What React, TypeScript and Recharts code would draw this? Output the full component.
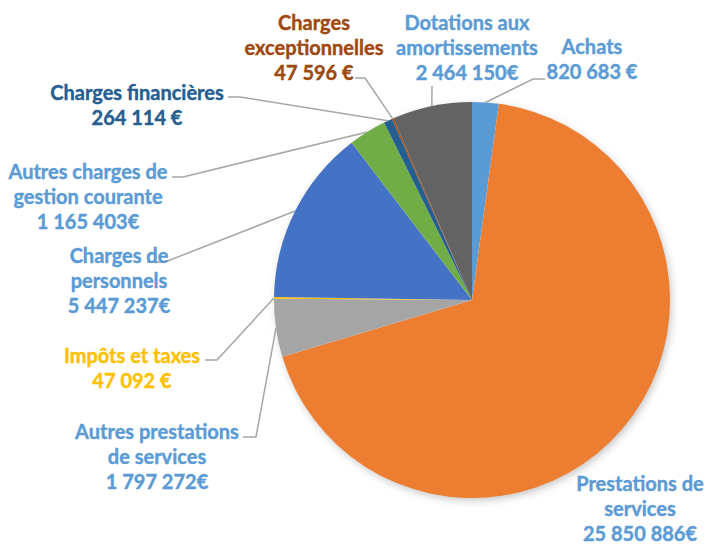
import { PieChart, Pie, Cell } from 'recharts'

const categories = [
  'Achats',
  'Prestations de services',
  'Autres prestations de services',
  'Impôts et taxes',
  'Charges de personnels',
  'Autres charges de gestion courante',
  'Charges financières',
  'Charges exceptionnelles',
  'Dotations aux amortissements',
]
const values = [820683, 25850886, 1797272, 47092, 5447237, 1165403, 264114, 47596, 2464150]
const valueLabels = [
  '820 683 €',
  '25 850 886€',
  '1 797 272€',
  '47 092 €',
  '5 447 237€',
  '1 165 403€',
  '264 114 €',
  '47 596 €',
  '2 464 150€',
]
// how each category name is wrapped in its label
const nameLines = [
  ['Achats'],
  ['Prestations de', 'services'],
  ['Autres prestations', 'de services'],
  ['Impôts et taxes'],
  ['Charges de', 'personnels'],
  ['Autres charges de', 'gestion courante'],
  ['Charges financières'],
  ['Charges', 'exceptionnelles'],
  ['Dotations aux', 'amortissements'],
]

const sliceColors = ['#5B9BD5', '#ED7D31', '#A5A5A5', '#FFC000', '#4472C4', '#70AD47', '#255E91', '#9E480E', '#636363']
const textColors = ['#5B9BD5', '#5B9BD5', '#5B9BD5', '#FFC000', '#5B9BD5', '#5B9BD5', '#255E91', '#9E480E', '#5B9BD5']

// label placement (text centre, first line y, leader elbow and end)
const labelLayout = [
  { x: 592, y: 46, elbow: [533, 79], end: [545, 79] },
  { x: 640, y: 483, elbow: null, end: null },
  { x: 157, y: 431, elbow: [256, 437], end: [243, 437] },
  { x: 132, y: 355, elbow: [217, 360], end: [205, 360] },
  { x: 119, y: 255, elbow: [165, 262], end: [147, 262] },
  { x: 88, y: 171, elbow: [183, 177], end: [172, 177] },
  { x: 137, y: 92, elbow: [240, 97], end: [228, 97] },
  { x: 314, y: 22, elbow: [365, 78], end: [355, 78] },
  { x: 467, y: 22, elbow: [432, 86], end: [432, 86] },
]

const data = categories.map((name, i) => ({ name, value: values[i] }))

const RAD = Math.PI / 180
const LINE_H = 25

function renderLabel(props: any) {
  const { cx, cy, midAngle, outerRadius, index } = props
  const lay = labelLayout[index]
  const lines = [...nameLines[index], valueLabels[index]]
  const sx = cx + outerRadius * Math.cos(-midAngle * RAD)
  const sy = cy + outerRadius * Math.sin(-midAngle * RAD)
  return (
    <g key={`lbl-${index}`}>
      {lay.elbow && lay.end && (
        <polyline
          points={`${sx},${sy} ${lay.elbow[0]},${lay.elbow[1]} ${lay.end[0]},${lay.end[1]}`}
          fill="none"
          stroke="#A6A6A6"
          strokeWidth={1.5}
        />
      )}
      <text
        x={lay.x}
        y={lay.y}
        textAnchor="middle"
        fill={textColors[index]}
        stroke={textColors[index]}
        strokeWidth={0.4}
        fontFamily="Lato, 'Open Sans', sans-serif"
        fontWeight={700}
        fontSize={20}
      >
        {lines.map((t, j) => (
          <tspan key={j} x={lay.x} y={lay.y + j * LINE_H} dominantBaseline="central">
            {t}
          </tspan>
        ))}
      </text>
    </g>
  )
}

export default function App() {
  return (
    <div style={{ position: 'absolute', left: 0, top: 0, width: 706, height: 545, background: '#fff' }}>
      <PieChart width={706} height={545} margin={{ top: 0, right: 0, bottom: 0, left: 0 }}>
        <defs>
          <filter id="pieShadow" x="-20%" y="-20%" width="140%" height="140%">
            <feDropShadow dx="2" dy="3" stdDeviation="4" floodColor="#000" floodOpacity="0.25" />
          </filter>
        </defs>
        {/* shadow disc under the pie */}
        <Pie
          data={[{ name: 'shadow', value: 1 }]}
          dataKey="value"
          cx={472}
          cy={300}
          outerRadius={197}
          startAngle={90}
          endAngle={-270}
          stroke="none"
          fill="#fff"
          isAnimationActive={false}
          style={{ filter: 'url(#pieShadow)' }}
          label={false}
          labelLine={false}
        />
        <Pie
          data={data}
          dataKey="value"
          nameKey="name"
          cx={472}
          cy={300}
          outerRadius={198}
          startAngle={90}
          endAngle={-270}
          stroke="none"
          isAnimationActive={false}
          label={renderLabel}
          labelLine={false}
        >
          {data.map((d, i) => (
            <Cell key={d.name} fill={sliceColors[i]} />
          ))}
        </Pie>
      </PieChart>
    </div>
  )
}
